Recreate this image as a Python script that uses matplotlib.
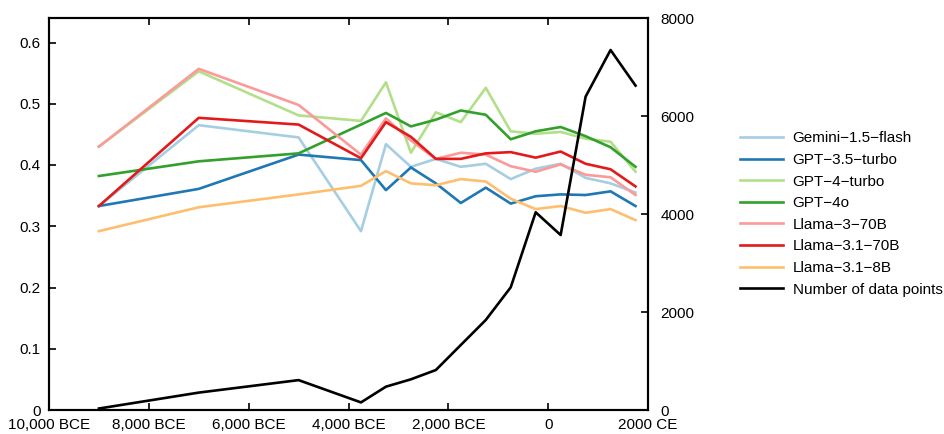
import numpy as np
import matplotlib
matplotlib.use('Agg')
import matplotlib.pyplot as plt

plt.rcParams['font.family'] = ['Liberation Sans', 'DejaVu Sans']
plt.rcParams['font.size'] = 11

### DATA
years = [-9000, -7000, -5000, -3750, -3250, -2750, -2250, -1750, -1250, -750, -250, 250, 750, 1250, 1750]

gemini_15_flash = [0.333, 0.465, 0.445, 0.292, 0.434, 0.397, 0.410, 0.397, 0.402, 0.377, 0.394, 0.402, 0.379, 0.370, 0.355]
gpt_35_turbo = [0.333, 0.361, 0.417, 0.408, 0.359, 0.396, 0.370, 0.338, 0.363, 0.337, 0.349, 0.352, 0.351, 0.357, 0.333]
gpt_4_turbo = [0.430, 0.553, 0.481, 0.472, 0.535, 0.420, 0.486, 0.470, 0.526, 0.455, 0.451, 0.454, 0.443, 0.438, 0.389]
gpt_4o = [0.382, 0.406, 0.419, 0.466, 0.485, 0.463, 0.474, 0.489, 0.482, 0.442, 0.455, 0.462, 0.447, 0.429, 0.397]
llama_3_70b = [0.430, 0.557, 0.498, 0.417, 0.476, 0.440, 0.410, 0.420, 0.417, 0.398, 0.389, 0.401, 0.384, 0.380, 0.351]
llama_31_70b = [0.333, 0.477, 0.466, 0.411, 0.470, 0.446, 0.410, 0.410, 0.419, 0.421, 0.412, 0.422, 0.402, 0.393, 0.365]
llama_31_8b = [0.292, 0.331, 0.352, 0.366, 0.390, 0.370, 0.367, 0.377, 0.373, 0.345, 0.328, 0.333, 0.322, 0.328, 0.310]

n_points = [30, 355, 610, 155, 476, 626, 816, 1327, 1837, 2504, 4035, 3571, 6395, 7347, 6620]

model_names = ['Gemini\u22121.5\u2212flash', 'GPT\u22123.5\u2212turbo', 'GPT\u22124\u2212turbo', 'GPT\u22124o',
               'Llama\u22123\u221270B', 'Llama\u22123.1\u221270B', 'Llama\u22123.1\u22128B']
model_colors = ['#a6cee3', '#1f78b4', '#b2df8a', '#33a02c', '#fb9a99', '#e31a1c', '#fdbf6f']

xticks = [-10000, -8000, -6000, -4000, -2000, 0, 2000]
xticklabels = ['10,000 BCE', '8,000 BCE', '6,000 BCE', '4,000 BCE', '2,000 BCE', '0', '2000 CE']

fig = plt.figure(figsize=(9.44, 4.34), dpi=100)
ax = fig.add_axes([49/944, 1-410/434, (648-49)/944, (410-18)/434])

series = [gemini_15_flash, gpt_35_turbo, gpt_4_turbo, gpt_4o, llama_3_70b, llama_31_70b, llama_31_8b]
lines = []
for vals, name, c in zip(series, model_names, model_colors):
    l, = ax.plot(years, vals, color=c, linewidth=1.9, label=name)
    lines.append(l)

ax.set_xlim(-10000, 2000)
ax.set_ylim(0, 0.64)
ax.set_xticks(xticks)
ax.set_xticklabels(xticklabels)
ax.set_yticks([0, 0.1, 0.2, 0.3, 0.4, 0.5, 0.6])
ax.set_yticklabels(['0', '0.1', '0.2', '0.3', '0.4', '0.5', '0.6'])
ax.tick_params(axis='x', direction='in', length=5, width=1.2, top=True, pad=6)
ax.tick_params(axis='y', direction='in', length=5, width=1.2, pad=6)
for s in ax.spines.values():
    s.set_linewidth(1.5)

ax2 = ax.twinx()
l, = ax2.plot(years, n_points, color='k', linewidth=1.9, label='Number of data points')
lines.append(l)
ax2.set_ylim(0, 8000)
ax2.set_yticks([0, 2000, 4000, 6000, 8000])
ax2.tick_params(axis='y', direction='in', length=5, width=1.2, pad=9)
for s in ax2.spines.values():
    s.set_linewidth(1.5)

fig.legend(handles=lines, loc='center left', bbox_to_anchor=(740/944, 1-214/434),
           bbox_transform=fig.transFigure, frameon=False, borderpad=0, borderaxespad=0,
           handlelength=2.8, handletextpad=0.65, labelspacing=0.5, fontsize=11)

fig.savefig('out.png', dpi=100)
